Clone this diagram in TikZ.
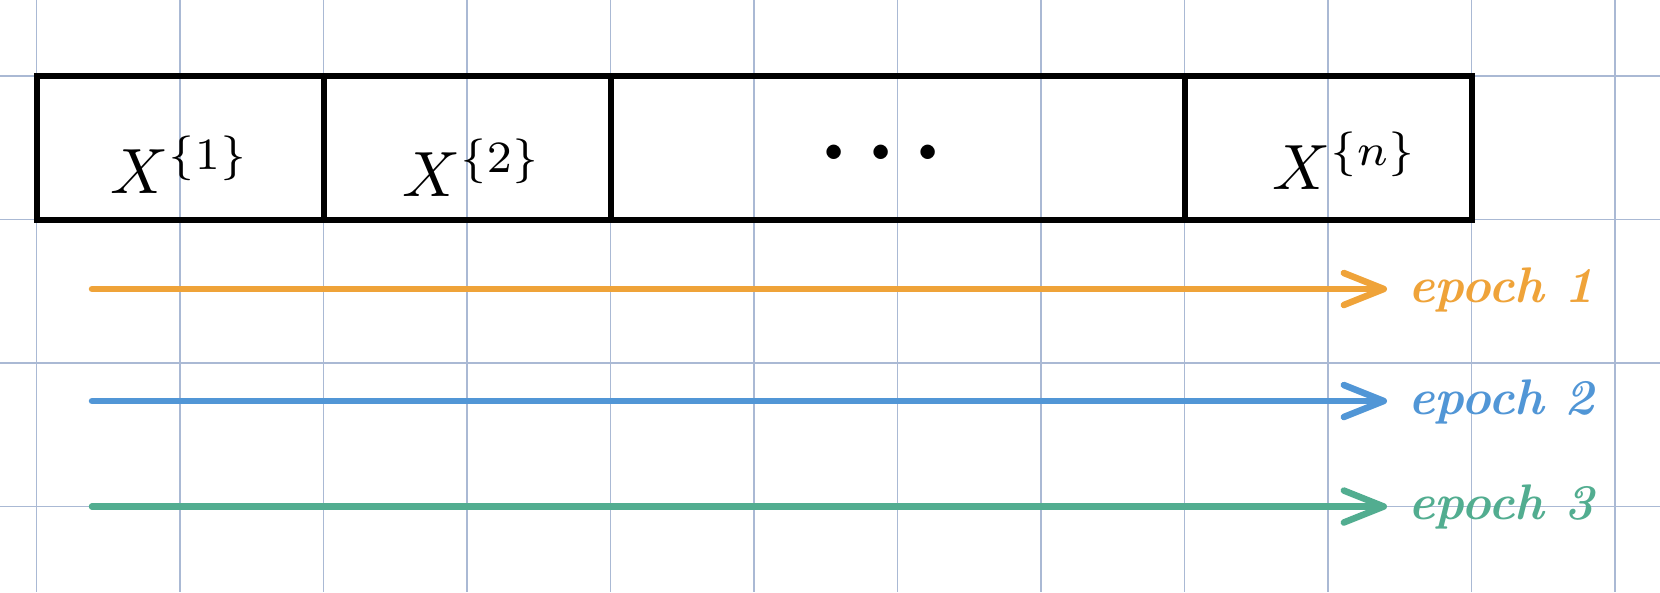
\documentclass[tikz,border=0pt]{standalone}
\usetikzlibrary{arrows.meta}
\definecolor{gridc}{RGB}{170,185,212}
\definecolor{eporange}{RGB}{239,163,57}
\definecolor{epblue}{RGB}{81,150,214}
\definecolor{epgreen}{RGB}{82,173,144}
\newcommand{\bigmath}[1]{\scalebox{6.4}{$#1$}}
\begin{document}
\begin{tikzpicture}[x=1pt,y=-1pt,
  gridline/.style={draw=gridc,line width=1.8pt},
  cell/.style={draw=black,line width=6pt,rectangle,minimum height=143.5pt,inner sep=0pt,outer sep=0pt},
  xlab/.style={anchor=base, inner sep=0pt},
  eplab/.style={font=\fontsize{50}{50}\selectfont\bfseries\itshape, anchor=base west, inner sep=0pt},
  epocharrow/.style={line width=6.5pt, line cap=round, -{Straight Barb[length=40pt,width=32pt,round]}}]
\useasboundingbox (0,0) rectangle (1660,592);
\fill[white] (0,0) rectangle (1660,592);
\foreach \i in {0,...,11} \draw[gridline] (36.5+143.5*\i,0) -- (36.5+143.5*\i,592);
\foreach \j in {0,...,3} \draw[gridline] (0,76+143.5*\j) -- (1660,76+143.5*\j);
% cells
\node[cell, minimum width=287pt] (c1) at (180,147.75) {};
\node[cell, minimum width=287pt] (c2) at (467,147.75) {};
\node[cell, minimum width=574pt] (c3) at (897.5,147.75) {};
\node[cell, minimum width=287pt] (c4) at (1328,147.75) {};
% labels
\node[xlab] (x1) at (180,193) {\bigmath{X^{\{1\}}}};
\node[xlab] (x2) at (472,196) {\bigmath{X^{\{2\}}}};
\node[xlab] (xn) at (1345,189) {\bigmath{X^{\{n\}}}};
\node[font=\fontsize{100}{100}\selectfont\bfseries, inner sep=0pt] (dots) at (881,152) {.\hspace{16pt}.\hspace{16pt}.};
% epochs
\coordinate (s1) at (92,289);
\coordinate (s2) at (92,401);
\coordinate (s3) at (92,506.5);
\node[eplab, text=eporange] (e1) at (1408,302) {epoch 1};
\node[eplab, text=epblue] (e2) at (1408,414) {epoch 2};
\node[eplab, text=epgreen] (e3) at (1408,519.5) {epoch 3};
\draw[epocharrow, draw=eporange] (s1) -- ([xshift=-21pt]s1 -| e1.west);
\draw[epocharrow, draw=epblue] (s2) -- ([xshift=-21pt]s2 -| e2.west);
\draw[epocharrow, draw=epgreen] (s3) -- ([xshift=-21pt]s3 -| e3.west);
\end{tikzpicture}
\end{document}
